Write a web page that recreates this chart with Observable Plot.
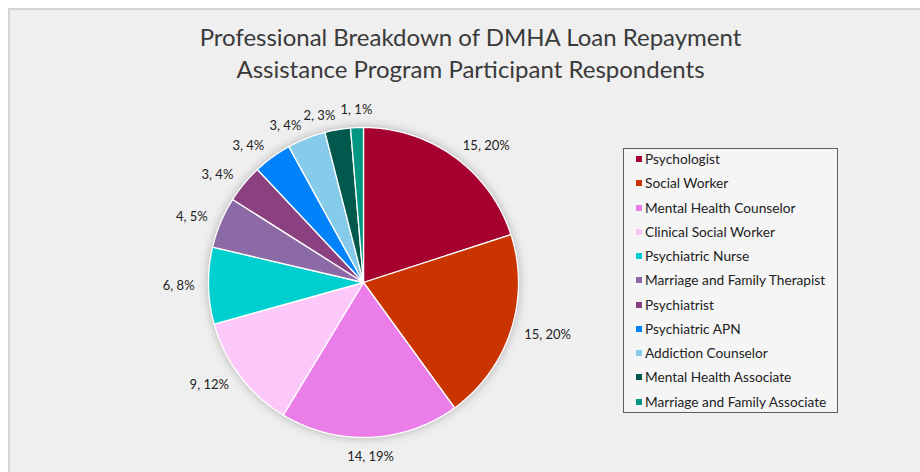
<!DOCTYPE html>
<html><head><meta charset="utf-8">
<script src="https://cdn.jsdelivr.net/npm/d3@7"></script>
<script src="https://cdn.jsdelivr.net/npm/@observablehq/plot@0.6"></script>
<style>
html,body{margin:0;padding:0;}
body{background:#fff;width:920px;height:472px;overflow:hidden;position:relative;font-family:Lato,"Open Sans",sans-serif;}
#panel{position:absolute;left:8px;top:8px;right:0;bottom:0;background:#efefef;border-left:2px solid #d4d4d4;border-top:2px solid #d4d4d4;}
#title{position:absolute;left:0;width:941px;top:21px;text-align:center;font-size:24px;line-height:31.5px;color:#3a3a3a;}
#chart{position:absolute;left:0;top:0;}
#legend{position:absolute;left:623px;top:148px;width:213px;height:263px;border:1px solid #5e5e5e;background:#f5f5f5;}
.item{position:absolute;left:12px;height:24px;line-height:24px;font-size:13.7px;color:#222;display:flex;align-items:center;white-space:nowrap;}
.sw{width:6px;height:6px;margin-right:3px;flex:none;}
</style>
</head><body>
<div id="panel"></div>
<div id="title">Professional Breakdown of DMHA Loan Repayment<br>Assistance Program Participant Respondents</div>
<div id="chart"></div>
<div id="legend"></div>
<script>
const categories = ["Psychologist","Social Worker","Mental Health Counselor","Clinical Social Worker","Psychiatric Nurse","Marriage and Family Therapist","Psychiatrist","Psychiatric APN","Addiction Counselor","Mental Health Associate","Marriage and Family Associate"];
const counts = [15,15,14,9,6,4,3,3,3,2,1];
const colors = ["#a5002f","#c93400","#eb7de9","#fbc8f9","#00cfcf","#8c6aa6","#8b4180","#0082fb","#86ccea","#00594c","#009682"];

const total = d3.sum(counts);
let cum = 0;
const slices = categories.map((c, i) => {
  const a0 = cum / total * 2 * Math.PI; cum += counts[i];
  const a1 = cum / total * 2 * Math.PI;
  return {c, count: counts[i], a0, a1, mid: (a0 + a1) / 2};
});
const pts = slices.flatMap(s => {
  const n = Math.max(2, Math.ceil((s.a1 - s.a0) / 0.008));
  const arr = [{c: s.c, x: 0, y: 0}];
  for (let k = 0; k <= n; k++) {
    const a = s.a0 + (s.a1 - s.a0) * k / n;
    arr.push({c: s.c, x: Math.sin(a), y: Math.cos(a)});
  }
  return arr;
});
const LR = 1.09;
const labels = slices.map(s => {
  const sx = Math.sin(s.mid), cy = Math.cos(s.mid);
  return {
    text: `${s.count}, ${Math.round(s.count / total * 100)}%`,
    x: LR * sx, y: LR * cy,
    anchor: sx > 0.1 ? "start" : sx < -0.1 ? "end" : "middle",
    line: cy > 0.9 && Math.abs(sx) <= 0.1 ? "bottom" : cy < -0.9 && Math.abs(sx) <= 0.1 ? "top" : "middle"
  };
});
const textMark = (anchor, line) => Plot.text(labels.filter(d => d.anchor === anchor && d.line === line), {
  x: "x", y: "y", text: "text", textAnchor: anchor, lineAnchor: line,
  fontSize: 13, fill: "#222", fontFamily: "Lato, sans-serif"
});

const chart = Plot.plot({
  width: 920, height: 472,
  style: {background: "transparent", overflow: "visible"},
  x: {domain: [-1, 1], range: [208, 518], axis: null},
  y: {domain: [-1, 1], range: [437, 127], axis: null},
  color: {type: "ordinal", domain: categories, range: colors},
  marks: [
    Plot.line(pts, {x: "x", y: "y", z: "c", fill: "c", stroke: "white", strokeWidth: 1.3, curve: "linear-closed"}),
    textMark("start", "middle"), textMark("end", "middle"),
    textMark("middle", "top"), textMark("middle", "bottom"), textMark("middle", "middle")
  ]
});
d3.select(chart).select('g[aria-label="line"]').style("filter", "drop-shadow(0 0 5px rgba(0,0,0,0.25))");
document.getElementById("chart").appendChild(chart);

const color = chart.scale("color");
const lg = d3.select("#legend");
categories.forEach((c, i) => {
  const it = lg.append("div").attr("class", "item").style("top", (-2 + 24.25 * i) + "px");
  it.append("div").attr("class", "sw").style("background", color.apply(c));
  it.append("span").text(c);
});
</script>
</body></html>
